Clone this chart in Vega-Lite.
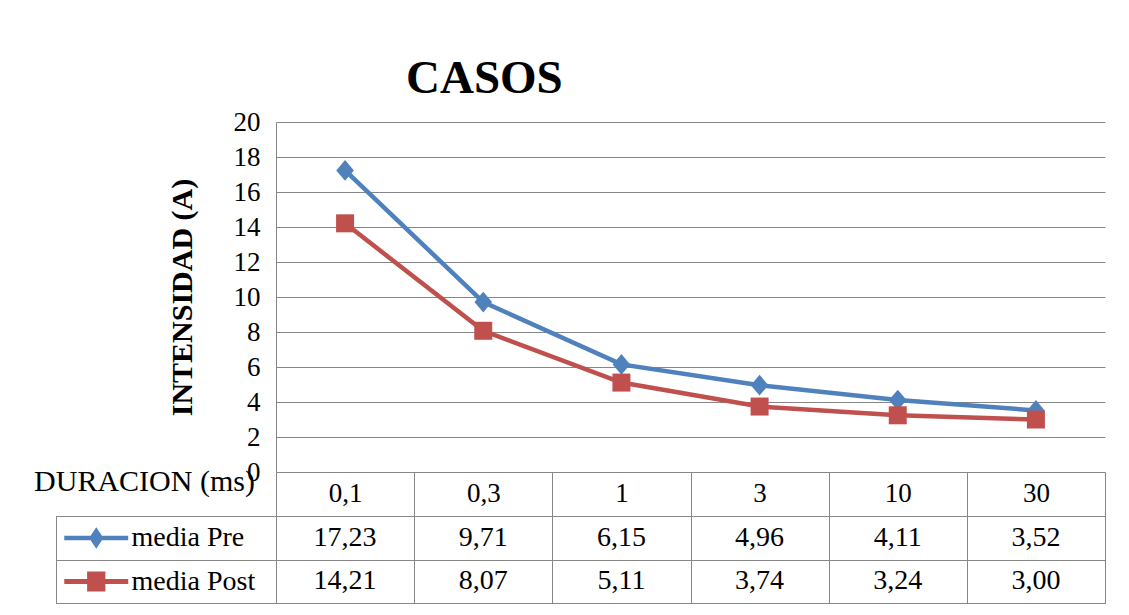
{
  "$schema": "https://vega.github.io/schema/vega-lite/v6.json",
  "background": "white",
  "autosize": {"type": "pad"},
  "padding": {"left": 33, "top": 55, "right": 10, "bottom": 8},
  "title": {"text": "CASOS", "anchor": "start", "frame": "group", "dx": 350, "offset": -32, "baseline": "alphabetic", "font": "Liberation Serif", "fontSize": 47, "fontWeight": "bold", "color": "black"},
  "datasets": {
    "rows": [
      {"dur": "0,1", "serie": "media Pre", "valor": 17.23},
      {"dur": "0,3", "serie": "media Pre", "valor": 9.71},
      {"dur": "1", "serie": "media Pre", "valor": 6.15},
      {"dur": "3", "serie": "media Pre", "valor": 4.96},
      {"dur": "10", "serie": "media Pre", "valor": 4.11},
      {"dur": "30", "serie": "media Pre", "valor": 3.52},
      {"dur": "0,1", "serie": "media Post", "valor": 14.21},
      {"dur": "0,3", "serie": "media Post", "valor": 8.07},
      {"dur": "1", "serie": "media Post", "valor": 5.11},
      {"dur": "3", "serie": "media Post", "valor": 3.74},
      {"dur": "10", "serie": "media Post", "valor": 3.24},
      {"dur": "30", "serie": "media Post", "valor": 3.00}
    ]
  },
  "columns": 2,
  "spacing": {"row": 44, "column": 0},
  "bounds": "flush",
  "concat": [
    {
      "width": 220,
      "height": 350,
      "data": {"values": []},
      "mark": "point"
    },
    {
      "width": 829,
      "height": 350,
      "data": {"name": "rows"},
      "encoding": {
        "x": {
          "field": "dur", "type": "nominal", "sort": null,
          "scale": {"type": "band", "paddingInner": 0, "paddingOuter": 0},
          "axis": {
            "orient": "bottom", "domain": false, "ticks": true, "tickBand": "extent", "tickSize": 44, "tickColor": "#868686", "tickWidth": 1,
            "labelAngle": 0, "labelPadding": -23, "labelBaseline": "middle", "labelFont": "Liberation Serif", "labelFontSize": 27, "labelColor": "black",
            "title": "DURACION (ms)", "titleX": -132, "titleY": 9, "titleAlign": "center", "titleBaseline": "middle", "titleAngle": 0,
            "titleFont": "Liberation Serif", "titleFontSize": 30, "titleFontWeight": "normal", "titleColor": "black"
          }
        },
        "y": {
          "field": "valor", "type": "quantitative",
          "scale": {"domain": [0, 20], "nice": false},
          "axis": {
            "values": [0, 2, 4, 6, 8, 10, 12, 14, 16, 18, 20],
            "grid": true, "gridColor": "#868686", "gridWidth": 1,
            "domain": true, "domainColor": "#868686", "domainWidth": 1,
            "ticks": false, "labelPadding": 16,
            "labelFont": "Liberation Serif", "labelFontSize": 27, "labelColor": "black",
            "title": "INTENSIDAD (A)", "titleFont": "Liberation Serif", "titleFontSize": 30, "titleFontWeight": "bold", "titleColor": "black", "titlePadding": 36
          }
        },
        "color": {
          "field": "serie", "type": "nominal", "sort": null,
          "scale": {"domain": ["media Pre", "media Post"], "range": ["#4F81BD", "#C0504D"]},
          "legend": {
            "orient": "none", "legendX": 18.25, "legendY": 394, "title": null, "padding": 0,
            "symbolSize": 1892, "symbolStrokeWidth": 0, "labelOffset": 13.25,
            "labelFont": "Liberation Serif", "labelFontSize": 28, "labelColor": "black", "rowPadding": 7.5,
            "encode": {
              "symbols": {
                "update": {
                  "shape": {"signal": "datum.value === 'media Pre' ? 'M-1.47,-0.1L1.47,-0.1L1.47,0.1L-1.47,0.1Z M0,-0.5L0.33,0L0,0.5L-0.33,0Z' : 'M-1.47,-0.12L1.47,-0.12L1.47,0.12L-1.47,0.12Z M-0.42,-0.46L0.42,-0.46L0.42,0.46L-0.42,0.46Z'"},
                  "fill": {"scale": "color", "field": "value"},
                  "stroke": {"value": "transparent"},
                  "opacity": {"value": 1}
                }
              }
            }
          }
        }
      },
      "layer": [
        {"mark": {"type": "line", "strokeWidth": 4.5}},
        {
          "transform": [{"filter": "datum.serie === 'media Pre'"}],
          "mark": {"type": "point", "filled": true, "opacity": 1, "size": 430, "strokeWidth": 0, "shape": "M-0.85,0L0,-1L0.85,0L0,1Z"}
        },
        {
          "transform": [{"filter": "datum.serie === 'media Post'"}],
          "mark": {"type": "point", "filled": true, "opacity": 1, "size": 400, "strokeWidth": 0, "shape": "M-0.9,-0.9L0.9,-0.9L0.9,0.9L-0.9,0.9Z"}
        }
      ]
    },
    {
      "width": 220,
      "height": 87,
      "view": {"stroke": "#868686"},
      "data": {"name": "rows"},
      "mark": {"type": "point", "opacity": 0},
      "encoding": {
        "y": {
          "field": "serie", "type": "nominal", "sort": null,
          "scale": {"type": "band", "domain": ["media Pre", "media Post"], "paddingInner": 0, "paddingOuter": 0},
          "axis": {"grid": true, "tickBand": "extent", "gridColor": "#868686", "labels": false, "ticks": false, "domain": false, "title": null}
        }
      }
    },
    {
      "width": 829,
      "height": 87,
      "view": {"stroke": "#868686"},
      "data": {"name": "rows"},
      "mark": {"type": "text", "font": "Liberation Serif", "fontSize": 28, "color": "black"},
      "encoding": {
        "x": {
          "field": "dur", "type": "nominal", "sort": null,
          "scale": {"type": "band", "paddingInner": 0, "paddingOuter": 0},
          "axis": {"grid": true, "tickBand": "extent", "gridColor": "#868686", "labels": false, "ticks": false, "domain": false, "title": null}
        },
        "y": {
          "field": "serie", "type": "nominal", "sort": null,
          "scale": {"type": "band", "domain": ["media Pre", "media Post"], "paddingInner": 0, "paddingOuter": 0},
          "axis": {"grid": true, "tickBand": "extent", "gridColor": "#868686", "labels": false, "ticks": false, "domain": false, "title": null}
        },
        "text": {"field": "valor", "type": "quantitative", "format": ".2f"}
      }
    }
  ],
  "config": {
    "view": {"stroke": null},
    "font": "Liberation Serif",
    "locale": {"number": {"decimal": ",", "thousands": ".", "grouping": [3], "currency": ["", " €"]}}
  }
}
